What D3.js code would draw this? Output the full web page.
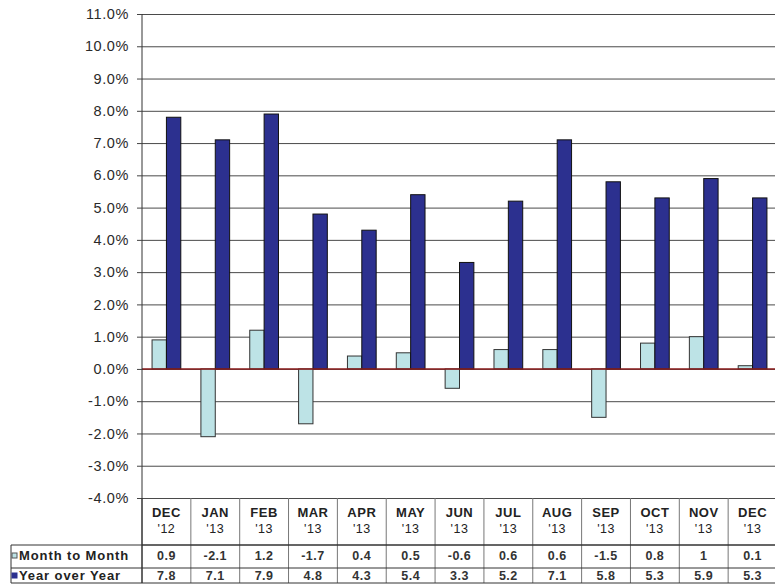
<!DOCTYPE html>
<html><head><meta charset="utf-8">
<script src="https://cdn.jsdelivr.net/npm/d3@7"></script>
<style>
html,body{margin:0;padding:0;background:#fff;}
svg{display:block;font-family:"Liberation Sans",Arial,sans-serif;}
</style></head>
<body><svg id="c" width="775" height="584"></svg>
<script>
const months = ["DEC","JAN","FEB","MAR","APR","MAY","JUN","JUL","AUG","SEP","OCT","NOV","DEC"];
const years = ["'12","'13","'13","'13","'13","'13","'13","'13","'13","'13","'13","'13","'13"];
const monthToMonth = [0.9,-2.1,1.2,-1.7,0.4,0.5,-0.6,0.6,0.6,-1.5,0.8,1,0.1];
const yearOverYear = [7.8,7.1,7.9,4.8,4.3,5.4,3.3,5.2,7.1,5.8,5.3,5.9,5.3];
const seriesNames = ["Month to Month","Year over Year"];
const yTicks = d3.range(-4, 11.5, 1);

(function(){
const svg = d3.select("#c");
const pLeft = 142, pRight = 777, pTop = 14, pBottom = 498;
const rowM = 545, rowY = 568, rowEnd = 583, labelLeft = 11;
const colors = ["#bde3e6","#2c308f"];

const y = d3.scaleLinear().domain([-4, 11]).range([pBottom, pTop]);
const x = d3.scaleBand().domain(d3.range(months.length)).range([pLeft, pRight]).padding(0);
const xs = d3.scaleBand().domain([0,1]).range([0, x.bandwidth()]).paddingInner(0).paddingOuter(0.7);

// gridlines
svg.append("g").attr("transform",`translate(${pLeft},0)`)
  .call(d3.axisLeft(y).tickValues(yTicks).tickSize(-(pRight-pLeft)).tickFormat(""))
  .call(g=>g.select(".domain").remove())
  .call(g=>g.selectAll(".tick line").attr("stroke","#4a4a4a").attr("stroke-width",1));

// bars
const series = [monthToMonth, yearOverYear];
series.forEach((vals, si) => {
  svg.append("g").selectAll("rect").data(vals).join("rect")
    .attr("x", (d,i)=> x(i) + xs(si))
    .attr("width", xs.bandwidth())
    .attr("y", d=> y(Math.max(0,d)))
    .attr("height", d=> Math.abs(y(d)-y(0)))
    .attr("fill", colors[si])
    .attr("stroke", si===0 ? "#333" : "#111")
    .attr("stroke-width", 1);
});

// zero line
svg.append("line").attr("x1",pLeft).attr("x2",pRight).attr("y1",y(0)).attr("y2",y(0))
  .attr("stroke","#8b1c1c").attr("stroke-width",1.5);

// y axis
svg.append("g").attr("transform",`translate(${pLeft},0)`)
  .call(d3.axisLeft(y).tickValues(yTicks).tickSize(5).tickPadding(8).tickFormat(d=>d.toFixed(1)+"%"))
  .call(g=>g.select(".domain").attr("stroke","#333").attr("d",`M0,${pTop}V${rowEnd}`))
  .call(g=>g.selectAll(".tick line").attr("stroke","#444"))
  .call(g=>g.selectAll(".tick text").attr("fill","#2a2a2a").attr("font-size","14.5px")
      .attr("letter-spacing","0.6px").attr("font-family","'Liberation Sans',Arial,sans-serif"));

// table
const tbl = svg.append("g");
d3.range(months.length+1).forEach(i=>{
  const xx = i<months.length ? x(i) : pRight;
  tbl.append("line").attr("x1",xx).attr("x2",xx).attr("y1",pBottom).attr("y2",rowEnd)
    .attr("stroke", i===0 ? "#333" : "#777").attr("stroke-width",1);
});
[[pLeft,rowM],[labelLeft,rowM],[labelLeft,rowY],[labelLeft,rowEnd]].forEach(([x0,yy])=>{
  tbl.append("line").attr("x1",x0).attr("x2",pRight).attr("y1",yy).attr("y2",yy)
    .attr("stroke","#333").attr("stroke-width",1);
});
tbl.append("line").attr("x1",labelLeft).attr("x2",labelLeft).attr("y1",rowM).attr("y2",rowEnd)
  .attr("stroke","#333");

tbl.selectAll("text.m").data(months).join("text").attr("class","m")
  .attr("x",(d,i)=>x(i)+x.bandwidth()/2).attr("y",517)
  .attr("text-anchor","middle").attr("font-size","13px").attr("font-weight","bold")
  .attr("letter-spacing","0.5px").attr("fill","#222").text(d=>d);
tbl.selectAll("text.yr").data(years).join("text").attr("class","yr")
  .attr("x",(d,i)=>x(i)+x.bandwidth()/2).attr("y",533)
  .attr("text-anchor","middle").attr("font-size","12.5px")
  .attr("letter-spacing","0.5px").attr("fill","#222").text(d=>d);

series.forEach((vals, si)=>{
  const yy = si===0 ? 560 : 580;
  tbl.selectAll("text.v"+si).data(vals).join("text").attr("class","v"+si)
    .attr("x",(d,i)=>x(i)+x.bandwidth()/2).attr("y",yy)
    .attr("text-anchor","middle").attr("font-size","12.5px").attr("font-weight", "bold")
    .attr("letter-spacing","0.5px").attr("fill","#333").text(d=>String(d));
  const ky = si===0 ? 553 : 573;
  tbl.append("rect").attr("x",12).attr("y",ky).attr("width",5).attr("height",5)
    .attr("fill",colors[si]).attr("stroke",si===0?"#555":colors[si]);
  tbl.append("text").attr("x",19).attr("y",yy).attr("font-size","13px")
    .attr("font-weight","bold").attr("letter-spacing","0.9px").attr("fill","#222")
    .text(seriesNames[si]);
});
})();
</script></body></html>
